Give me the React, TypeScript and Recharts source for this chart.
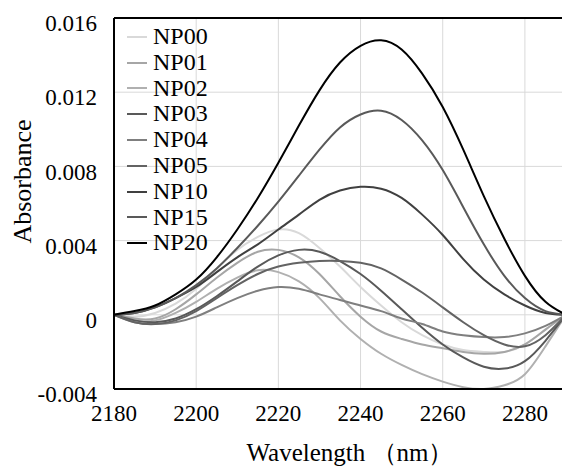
import React from "react";
import {
  LineChart,
  Line,
  XAxis,
  YAxis,
  CartesianGrid,
  Legend,
  ReferenceLine,
} from "recharts";

// ─── Data ──────────────────────────────────────────────────────────────────

const wavelengths = [
  2180, 2185, 2190, 2195, 2200, 2205, 2210, 2215, 2220, 2225, 2230, 2235,
  2240, 2245, 2250, 2255, 2260, 2265, 2270, 2275, 2280, 2285, 2290,
];

const np00 = [
  0, -0.0001, 0.0001, 0.0006, 0.0014, 0.0025, 0.0035, 0.0042, 0.0046, 0.0044,
  0.0036, 0.0026, 0.0015, 0.0005, -0.0004, -0.0011, -0.0016, -0.0019, -0.002,
  -0.002, -0.0016, -0.0008, 0,
];
const np01 = [
  0, -0.0002, -0.0002, 0.0003, 0.0011, 0.002, 0.0028, 0.0034, 0.0035, 0.0031,
  0.0022, 0.001, -0.0001, -0.0009, -0.0013, -0.0016, -0.0018, -0.002, -0.0021,
  -0.002, -0.0016, -0.0008, 0,
];
const np02 = [
  0, -0.0003, -0.0003, 0.0001, 0.0007, 0.0014, 0.002, 0.0024, 0.0023, 0.0018,
  0.0009, -0.0003, -0.0013, -0.0021, -0.0027, -0.0032, -0.0036, -0.0039, -0.004,
  -0.0038, -0.0032, -0.0017, 0,
];
const np03 = [
  0, -0.0003, -0.0004, -0.0002, 0.0003, 0.001, 0.0018, 0.0026, 0.0032, 0.0035,
  0.0034, 0.0029, 0.0022, 0.0013, 0.0003, -0.0007, -0.0016, -0.0023, -0.0028,
  -0.0029, -0.0025, -0.0014, 0,
];
const np04 = [
  0, -0.0004, -0.0005, -0.0004, -0.0001, 0.0004, 0.0009, 0.0013, 0.0015, 0.0014,
  0.0011, 0.0008, 0.0005, 0.0002, -0.0002, -0.0005, -0.0009, -0.0011, -0.0012,
  -0.0012, -0.001, -0.0006, 0,
];
const np05 = [
  0, -0.0004, -0.0005, -0.0003, 0.0002, 0.0009, 0.0016, 0.0022, 0.0026, 0.0028,
  0.0029, 0.0029, 0.0028, 0.0025, 0.0019, 0.0012, 0.0004, -0.0004, -0.0011,
  -0.0016, -0.0017, -0.0011, 0,
];
const np10 = [
  0, 0.0001, 0.0004, 0.0009, 0.0015, 0.0023, 0.0031, 0.0038, 0.0046, 0.0054,
  0.0062, 0.0067, 0.0069, 0.0068, 0.0063, 0.0054, 0.0043, 0.003, 0.0019,
  0.0011, 0.0005, 0.0001, 0,
];
const np15 = [
  0, 0.0001, 0.0004, 0.0009, 0.0016, 0.0025, 0.0036, 0.0048, 0.0061, 0.0075,
  0.0089, 0.0101, 0.0108, 0.011, 0.0105, 0.0094, 0.0078, 0.0058, 0.0038,
  0.0021, 0.0009, 0.0002, 0,
];
const np20 = [
  0, 0.0002, 0.0005, 0.0011, 0.0019, 0.0031, 0.0046, 0.0063, 0.0082, 0.0102,
  0.0121, 0.0136, 0.0145, 0.0148, 0.0143, 0.013, 0.0112, 0.0089, 0.0064, 0.0041,
  0.0021, 0.0007, 0,
];

const seriesNames = ["NP00", "NP01", "NP02", "NP03", "NP04", "NP05", "NP10", "NP15", "NP20"];
const seriesValues = [np00, np01, np02, np03, np04, np05, np10, np15, np20];
const seriesColors = [
  "#d9d9d9", "#a6a6a6", "#b0b0b0", "#595959", "#7f7f7f",
  "#636363", "#404040", "#595959", "#000000",
];

const xTicks = [2180, 2200, 2220, 2240, 2260, 2280];
const yTicks = [-0.004, 0, 0.004, 0.008, 0.012, 0.016];

const data = wavelengths.map((w, i) => {
  const row: Record<string, number> = { wavelength: w };
  seriesNames.forEach((name, s) => {
    row[name] = seriesValues[s][i];
  });
  return row;
});

const FONT = '"Liberation Serif", "Times New Roman", "DejaVu Serif", serif';

// ─── Axis titles & legend ─────────────────────────────────────────────────

function YTitle({ viewBox }: any) {
  const cx = viewBox.x + 22;
  const cy = viewBox.y + viewBox.height / 2 - 22;
  return (
    <text
      x={cx}
      y={cy}
      transform={`rotate(-90 ${cx} ${cy})`}
      textAnchor="middle"
      dominantBaseline="central"
      fontFamily={FONT}
      fontSize={26}
      fill="#000"
    >
      Absorbance
    </text>
  );
}

function XTitle({ viewBox }: any) {
  const cx = viewBox.x + viewBox.width / 2 + 10;
  const cy = viewBox.y + 63;
  return (
    <text
      x={cx}
      y={cy}
      textAnchor="middle"
      dominantBaseline="central"
      fontFamily={FONT}
      fontSize={25}
      fill="#000"
    >
      Wavelength （nm）
    </text>
  );
}

function renderLegend({ payload }: any) {
  return (
    <div style={{ fontFamily: FONT, fontSize: 24, lineHeight: "25.8px", color: "#000" }}>
      {(payload || []).map((p: any) => (
        <div key={p.value} style={{ display: "flex", alignItems: "center" }}>
          <span
            style={{ display: "inline-block", width: 20, height: 2, background: p.color, marginRight: 6 }}
          />
          <span>{p.value}</span>
        </div>
      ))}
    </div>
  );
}

// ─── Chart ─────────────────────────────────────────────────────────────────

export default function App() {
  return (
    <div style={{ position: "absolute", left: 0, top: 0, width: 562, height: 468, overflow: "hidden", background: "#fff" }}>
      <LineChart
        width={570}
        height={468}
        data={data}
        margin={{ top: 18, right: 4, left: 0, bottom: 0 }}
      >
        <CartesianGrid stroke="#d9d9d9" strokeWidth={1} />
        <XAxis
          dataKey="wavelength"
          type="number"
          domain={[2180, 2290]}
          ticks={xTicks}
          height={79}
          tickLine={false}
          tickSize={0}
          tickMargin={16}
          axisLine={{ stroke: "#000", strokeWidth: 2 }}
          tick={{ fontSize: 23, fontFamily: FONT, fill: "#000" }}
          label={<XTitle />}
        />
        <YAxis
          type="number"
          domain={[-0.004, 0.016]}
          ticks={yTicks}
          width={114}
          tickLine={false}
          tickSize={0}
          tickMargin={17}
          axisLine={{ stroke: "#000", strokeWidth: 2 }}
          tick={{ fontSize: 23, fontFamily: FONT, fill: "#000", dy: 5 }}
          tickFormatter={(v: number) => (v === 0 ? "0" : v.toFixed(3))}
          label={<YTitle />}
        />
        <ReferenceLine y={0.016} stroke="#000" strokeWidth={2} />
        <Legend
          layout="vertical"
          align="center"
          verticalAlign="middle"
          wrapperStyle={{ left: 127, top: 24, width: "auto" }}
          content={renderLegend}
        />
        {seriesNames.map((name, s) => (
          <Line
            key={name}
            type="natural"
            dataKey={name}
            name={name}
            stroke={seriesColors[s]}
            strokeWidth={2}
            dot={false}
            isAnimationActive={false}
          />
        ))}
      </LineChart>
    </div>
  );
}
